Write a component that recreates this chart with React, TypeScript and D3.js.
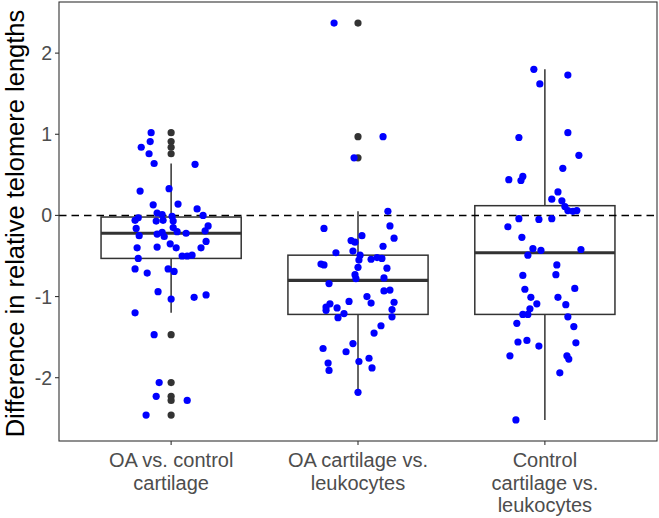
import React from "react";
import * as d3 from "d3";

const categories = ["OA vs. control\ncartilage", "OA cartilage vs.\nleukocytes", "Control\ncartilage vs.\nleukocytes"];

// values (difference in relative telomere length) per group, with horizontal jitter (in category-step units)
const g1Values = [1.02, 0.91, 0.84, 0.76, 0.64, 0.63, 0.30, 0.33, 0.13, 0.14, 0.08, 0.00, 0.03, 0.01, -0.01, -0.03, -0.06, -0.07, -0.06, -0.07, -0.13, -0.16, -0.25, -0.23, -0.21, -0.26, -0.15, -0.20, -0.22, -0.19, -0.40, -0.39, -0.35, -0.40, -0.32, -0.40, -0.50, -0.50, -0.49, -0.53, -0.66, -0.71, -0.66, -0.69, -0.94, -1.03, -1.01, -0.98, -1.20, -1.47, -2.06, -2.23, -2.28, -2.46];
const g1Jitter = [-0.107, -0.112, -0.16, -0.118, -0.091, 0.128, -0.166, -0.011, -0.096, 0.037, 0.139, 0.171, -0.075, -0.048, 0.005, -0.176, -0.193, -0.08, -0.043, 0.011, 0.198, -0.187, -0.171, -0.075, -0.048, -0.037, 0.011, 0.032, 0.08, 0.182, -0.182, -0.075, -0.005, 0.027, 0.187, 0.16, 0.059, 0.086, 0.112, -0.176, -0.193, -0.128, -0.016, 0.016, -0.07, 0, 0.123, 0.187, -0.193, -0.091, -0.064, -0.08, 0.086, -0.134];

const g2Values = [2.37, 0.97, 0.71, 0.05, -0.16, -0.13, -0.28, -0.25, -0.31, -0.33, -0.38, -0.44, -0.46, -0.49, -0.55, -0.54, -0.52, -0.53, -0.60, -0.61, -0.64, -0.65, -0.73, -0.78, -0.77, -0.84, -0.93, -0.92, -1.06, -1.00, -1.08, -1.07, -1.09, -1.13, -1.17, -1.14, -1.16, -1.21, -1.26, -1.25, -1.36, -1.45, -1.58, -1.64, -1.68, -1.76, -1.80, -1.82, -1.91, -1.88, -2.18];
const g2Jitter = [-0.128, 0.134, -0.021, 0.16, -0.182, 0.171, 0.193, 0.021, -0.037, -0.016, 0.134, -0.027, -0.118, 0.011, 0.005, 0.07, 0.102, 0.128, -0.198, -0.182, 0, 0.155, -0.016, -0.011, 0.139, -0.155, 0.139, 0.171, -0.048, 0.048, 0.07, 0.193, -0.15, -0.171, -0.171, -0.112, 0.182, -0.075, -0.107, 0.182, 0.123, 0.086, -0.027, -0.187, -0.064, 0.059, 0.005, -0.16, -0.155, 0.075, 0];

const g3Values = [1.80, 1.62, 1.73, 0.96, 1.02, 0.74, 0.58, 0.44, 0.48, 0.43, 0.29, 0.20, 0.18, 0.11, 0.06, 0.05, 0.06, -0.04, -0.05, -0.04, -0.14, -0.27, -0.41, -0.43, -0.49, -0.42, -0.61, -0.73, -0.74, -0.91, -0.90, -1.01, -1.01, -1.09, -1.10, -1.15, -1.22, -1.22, -1.25, -1.33, -1.37, -1.56, -1.54, -1.57, -1.61, -1.73, -1.73, -1.77, -1.94, -2.52];
const g3Jitter = [-0.059, -0.027, 0.123, -0.139, 0.123, 0.182, 0.096, -0.193, -0.118, -0.128, 0.07, 0.037, 0.091, 0.107, 0.123, 0.15, 0.171, -0.139, -0.032, 0.037, -0.198, -0.123, -0.064, -0.021, -0.091, 0.193, 0.064, 0.059, -0.118, -0.107, 0.16, -0.075, 0.07, -0.043, 0.112, -0.08, -0.118, -0.091, 0.123, -0.15, 0.155, -0.144, -0.096, 0.166, -0.032, -0.187, 0.118, 0.128, 0.08, -0.155];

// box statistics: [lower whisker, q1, median, q3, upper whisker]
const boxLower = [-1.20, -2.18, -2.52];
const boxQ1 = [-0.53, -1.22, -1.22];
const boxMedian = [-0.22, -0.80, -0.46];
const boxQ3 = [-0.02, -0.49, 0.12];
const boxUpper = [0.64, 0.05, 1.80];

const yTicks = [-2, -1, 0, 1, 2];
const yTitle = "Difference in relative telomere lengths";

const W = 659, H = 518;
const left = 59, right = 657, top = 2, bottom = 441;

export default function App() {
  const groups = [
    { values: g1Values, jitter: g1Jitter },
    { values: g2Values, jitter: g2Jitter },
    { values: g3Values, jitter: g3Jitter },
  ];
  const x = d3.scalePoint<number>().domain([0, 1, 2]).range([left, right]).padding(0.6);
  const step = x.step();
  const y = d3.scaleLinear().domain([-2.78, 2.63]).range([bottom, top]);
  const bw = step * 0.75;
  const grey20 = "#333333";
  const font = "'Liberation Sans', Arial, sans-serif";

  return (
    <svg width={W} height={H} style={{ position: "absolute", left: 0, top: 0, background: "#fff" }} fontFamily={font}>
      <rect x={0} y={0} width={W} height={H} fill="#fff" />
      {/* boxes */}
      {groups.map((g, i) => {
        const cx = x(i)!;
        return (
          <g key={"b" + i} stroke={grey20} fill="#fff">
            <line x1={cx} x2={cx} y1={y(boxQ3[i])} y2={y(boxUpper[i])} strokeWidth={1.5} />
            <line x1={cx} x2={cx} y1={y(boxQ1[i])} y2={y(boxLower[i])} strokeWidth={1.5} />
            <rect x={cx - bw / 2} y={y(boxQ3[i])} width={bw} height={y(boxQ1[i]) - y(boxQ3[i])} strokeWidth={1.5} />
            <line x1={cx - bw / 2} x2={cx + bw / 2} y1={y(boxMedian[i])} y2={y(boxMedian[i])} strokeWidth={3.2} />
          </g>
        );
      })}
      {/* dashed zero line */}
      <line x1={left} x2={right} y1={y(0)} y2={y(0)} stroke="#000" strokeWidth={1.5} strokeDasharray="7.5,5" />
      {/* outliers */}
      {groups.map((g, i) =>
        g.values
          .filter((v) => v < boxLower[i] - 1e-9 || v > boxUpper[i] + 1e-9)
          .map((v, j) => <circle key={"o" + i + "-" + j} cx={x(i)!} cy={y(v)} r={3.6} fill={grey20} />)
      )}
      {/* jittered points */}
      {groups.map((g, i) =>
        g.values.map((v, j) => (
          <circle key={"p" + i + "-" + j} cx={x(i)! + g.jitter[j] * step} cy={y(v)} r={3.6} fill="#0000ff" />
        ))
      )}
      {/* panel border */}
      <rect x={left} y={top} width={right - left} height={bottom - top} fill="none" stroke={grey20} strokeWidth={1.1} />
      {/* y axis */}
      {yTicks.map((t) => (
        <g key={"yt" + t}>
          <line x1={left - 4} x2={left} y1={y(t)} y2={y(t)} stroke={grey20} strokeWidth={1.1} />
          <text x={left - 7} y={y(t)} dy="0.36em" textAnchor="end" fontSize={19.5} fill="#4d4d4d">
            {t < 0 ? "-" + Math.abs(t) : String(t)}
          </text>
        </g>
      ))}
      {/* x axis */}
      {categories.map((c, i) => (
        <g key={"xt" + i}>
          <line x1={x(i)!} x2={x(i)!} y1={bottom} y2={bottom + 4} stroke={grey20} strokeWidth={1.1} />
          <text x={x(i)!} y={bottom + 26} textAnchor="middle" fontSize={20} fill="#4d4d4d">
            {c.split("\n").map((line, k) => (
              <tspan key={k} x={x(i)!} dy={k === 0 ? 0 : 22.5}>{line}</tspan>
            ))}
          </text>
        </g>
      ))}
      <text transform={`translate(23.5,${(top + bottom) / 2 + 2}) rotate(-90)`} textAnchor="middle" fontSize={25.5} fill="#000">
        {yTitle}
      </text>
    </svg>
  );
}
